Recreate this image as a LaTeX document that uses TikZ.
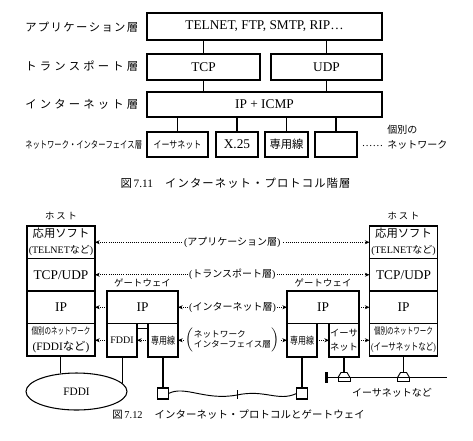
\documentclass[tikz,border=0pt]{standalone}
\usepackage{fontspec}
\setmainfont{Liberation Serif}
\newfontfamily\jp{Noto Sans CJK JP}
\usepackage{graphicx}
\usepackage{tikz}
\usetikzlibrary{positioning,arrows.meta,shapes.geometric}

% spread japanese letters over a fixed width
\newcommand\spreadjp[2]{\makebox[#1][s]{\jp\spreadloop#2\relax}}
\def\spreadloop#1#2{#1\ifx#2\relax\else\hfil\expandafter\spreadloop\expandafter#2\fi}

\begin{document}
\begin{tikzpicture}[x=0.75pt,y=-0.75pt,
  >={Stealth[length=3.5pt,width=3pt]},
  lyr/.style={draw, line width=0.8pt, inner sep=0pt, outer sep=0pt, align=center, font=\fontsize{10}{12}\selectfont},
  hrow/.style={lyr, minimum width=51pt, minimum height=24.375pt},
  gsub/.style={lyr, minimum width=22.5pt, minimum height=25.125pt},
  sq/.style={draw, line width=0.8pt, minimum size=8.25pt, inner sep=0pt, outer sep=0pt},
  lname/.style={anchor=west, inner sep=0pt, font=\fontsize{8.5}{10}\selectfont},
  ttl/.style={inner sep=0pt, font=\fontsize{7}{8}\selectfont},
  dar/.style={densely dotted, line width=0.6pt},
  alab/.style={fill=white, inner sep=1pt, font=\fontsize{7.5}{9}\selectfont},
  ln/.style={line width=0.8pt},
  ethtap/.pic={\draw[fill=white, line width=0.7pt] (-6,0) -- (-3,-5) -- (3,-5) -- (6,0) -- cycle;
               \draw[fill=white, line width=0.7pt] (-6,0) rectangle (6,4);}]
\fill[white] (0,0) rectangle (473,440);
% fig 7.11: layer names
\node[lname] (nm1) at (25,27) {\spreadjp{84.75pt}{アプリケーション層}};
\node[lname] (nm2) at (25,66) {\spreadjp{84.75pt}{トランスポート層}};
\node[lname] (nm3) at (25,104) {\spreadjp{84.75pt}{インターネット層}};
\node[lname] (nm4) at (25,145) {\scalebox{0.74}[1]{\fontsize{7.4}{8}\selectfont\spreadjp{112pt}{ネットワーク・インターフェイス層}}};
% fig 7.11: layers
\node[lyr, minimum width=176.25pt, minimum height=20.25pt] (app) at (264.5,26.5) {TELNET, FTP, SMTP, RIP…};
\node[lyr, minimum width=84.75pt, minimum height=19.5pt] (tcp) at (203.5,67) {TCP};
\node[lyr, minimum width=83.25pt, minimum height=19.5pt] (udp) at (326.5,67) {UDP};
\node[lyr, minimum width=176.25pt, minimum height=18.75pt] (ipicmp) at (264.5,104.5) {IP + ICMP};
\node[lyr, minimum width=45.75pt, minimum height=18.75pt] (eth) at (177.5,144.5) {\scalebox{0.8}[1]{\fontsize{7.5}{9}\selectfont\jp イーサネット}};
\node[lyr, minimum width=31.5pt, minimum height=18.75pt] (x25) at (237,144.5) {X.25};
\node[lyr, minimum width=32.25pt, minimum height=18.75pt] (lease) at (286.5,144.5) {\fontsize{8.5}{10}\selectfont\jp 専用線};
\node[lyr, minimum width=31.5pt, minimum height=18.75pt] (blank) at (336,144.5) {};
\draw[ln] (tcp.north) -- (tcp.north |- app.south);
\draw[ln] (udp.north) -- (udp.north |- app.south);
\draw[ln] (tcp.south) -- (tcp.south |- ipicmp.north);
\draw[ln] (udp.south) -- (udp.south |- ipicmp.north);
\foreach \n in {eth,x25,lease,blank} \draw[ln] (\n.north) -- (\n.north |- ipicmp.south);
\node[font=\fontsize{8}{9}\selectfont] (dots) at (372.5,146) {……};
\node[anchor=west, align=left, inner sep=0pt, font=\fontsize{7.5}{11}\selectfont\jp] (indiv) at (387,137) {個別の\\ネットワーク};
\node[font=\fontsize{8.5}{10}\selectfont] (cap1) at (235.5,183) {{\jp 図}\,7.11\hspace{9pt}\spreadjp{139pt}{インターネット・プロトコル階層}};
% fig 7.12: left host
\node[hrow] (lapp) at (61,242.25) {{\fontsize{8.5}{10}\selectfont\jp 応用ソフト}\\{\fontsize{7.5}{9}\selectfont (TELNET{\jp など})}};
\node[hrow, below=0pt of lapp] (ltp) {TCP/UDP};
\node[hrow, below=0pt of ltp] (lip) {IP};
\node[hrow, below=0pt of lip] (lni) {\scalebox{0.7}[1]{\fontsize{7}{8}\selectfont\jp 個別のネットワーク}\\{\fontsize{8.5}{10}\selectfont (FDDI{\jp など})}};
\node[ttl, above=4.5pt of lapp] (lhost) {\spreadjp{24pt}{ホスト}};
% right host
\node[hrow] (rapp) at (403.5,242.25) {{\fontsize{8.5}{10}\selectfont\jp 応用ソフト}\\{\fontsize{7.5}{9}\selectfont (TELNET{\jp など})}};
\node[hrow, below=0pt of rapp] (rtp) {TCP/UDP};
\node[hrow, below=0pt of rtp] (rip) {IP};
\node[hrow, below=0pt of rip] (rni) {\scalebox{0.7}[1]{\fontsize{7}{8}\selectfont\jp 個別のネットワーク}\\\scalebox{0.75}[1]{\fontsize{7.5}{9}\selectfont ({\jp イーサネットなど})}};
\node[ttl, above=4.5pt of rapp] (rhost) {\spreadjp{24pt}{ホスト}};
% gateways
\node[lyr, minimum width=53.25pt, minimum height=24.375pt] (lgwip) at (142.5,307.25) {IP};
\node[gsub, anchor=north west] (lfddi) at (lgwip.south west) {\fontsize{7.5}{9}\selectfont FDDI};
\node[gsub, anchor=north east] (lleased) at (lgwip.south east) {\scalebox{0.8}[1]{\fontsize{7.5}{9}\selectfont\jp 専用線}};
\draw[ln] (lfddi.north east) rectangle ([yshift=-3.4pt]lleased.north west);
\node[ttl, above=2.5pt of lgwip] (lgwname) {\spreadjp{42.5pt}{ゲートウェイ}};
\node[lyr, minimum width=54pt, minimum height=24.375pt] (rgwip) at (323,307.25) {IP};
\node[gsub, anchor=north west] (rleased) at (rgwip.south west) {\scalebox{0.8}[1]{\fontsize{7.5}{9}\selectfont\jp 専用線}};
\node[gsub, anchor=north east, font=\fontsize{7}{10}\selectfont\jp] (reth) at (rgwip.south east) {イーサ\\ネット};
\node[ttl, above=2.5pt of rgwip] (rgwname) {\spreadjp{42.5pt}{ゲートウェイ}};
% dotted peer arrows
\draw[dar,<->] (lapp.east) -- node[alab] {({\jp アプリケーション層})} (rapp.west);
\draw[dar,<->] (ltp.east) -- node[alab] {({\jp トランスポート層})} (rtp.west);
\draw[dar,->] (lgwip.west) -- (lgwip.west -| lip.east);
\draw[dar,<->] (lgwip.east) -- node[alab] {({\jp インターネット層})} (rgwip.west);
\draw[dar,->] (rgwip.east) -- (rgwip.east -| rip.west);
\draw[dar,->] (lfddi.west) -- (lfddi.west -| lni.east);
\draw[dar,->] (lleased.west) -- (lfddi.east);
\draw[dar,<->] (lleased.east) -- node[alab, font=\fontsize{6.5}{8}\selectfont] {$\left(\mbox{\jp\begin{tabular}{@{}l@{}}ネットワーク\\インターフェイス層\end{tabular}}\right)$} (rleased.west);
\draw[dar,->] (rleased.east) -- (reth.west);
\draw[dar,->] (reth.east) -- (reth.east -| rni.west);
% FDDI ring
\node[draw, ellipse, line width=0.8pt, minimum width=75.75pt, minimum height=27.75pt, inner sep=0pt, font=\fontsize{8.5}{10}\selectfont] (ring) at (76.5,391.5) {FDDI};
\draw[ln] (ring.131) -- (ring.131 |- lni.south);
\draw[ln] (ring.10) -- (ring.10 |- lfddi.south);
% leased line
\node[sq, below=23.25pt of lleased] (lsq) {};
\node[sq, below=23.25pt of rleased] (rsq) {};
\draw[ln] (lleased.south) -- (lsq.north);
\draw[ln] (rleased.south) -- (rsq.north);
\coordinate (wavemid) at (237,395);
\draw[line width=0.7pt] (lsq.east) .. controls (185,385) and (205,401) .. (wavemid) .. controls (265,389) and (278,402) .. (rsq.west);
\draw[line width=0.7pt] (wavemid) ++(0,-5) -- ++(0,9);
% ethernet
\node[fill, minimum width=2.25pt, minimum height=8.25pt, inner sep=0pt] (buscap) at (326,377.5) {};
\coordinate (busend) at (447,377.5);
\draw[ln] (buscap.center) -- (busend);
\draw[ln] (reth.south) -- (reth.south |- buscap);
\draw[ln] (rni.south) -- (rni.south |- buscap);
\pic at (reth.south |- buscap) {ethtap};
\pic at (rni.south |- buscap) {ethtap};
\node[font=\fontsize{7.5}{9}\selectfont\jp] (ethlbl) at (392,393) {イーサネットなど};
\node[font=\fontsize{7.8}{10}\selectfont] (cap2) at (238.5,415) {{\jp 図}\,7.12\hspace{9pt}\spreadjp{157.5pt}{インターネット・プロトコルとゲートウェイ}};
\end{tikzpicture}
\end{document}
